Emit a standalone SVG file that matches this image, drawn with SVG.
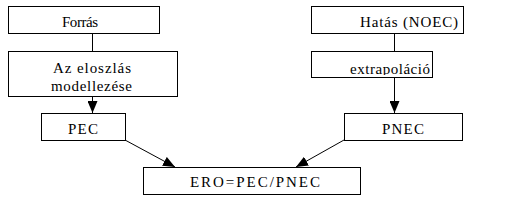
<svg xmlns="http://www.w3.org/2000/svg" width="520" height="201" viewBox="0 0 520 201">
  <style>
    .box { fill: #ffffff; stroke: #000000; stroke-width: 1; }
    .lbl { font-family: "Liberation Serif", "Times New Roman", "DejaVu Serif", serif; font-size: 15px; fill: #000000; }
    .conn { stroke: #000000; stroke-width: 1; fill: none; }
  </style>
  <defs>
    <marker id="arr" viewBox="0 0 12 10" markerWidth="12" markerHeight="10" refX="12" refY="5" orient="auto" markerUnits="userSpaceOnUse">
      <path d="M0,0 L12,5 L0,10 Z" fill="#000000"/>
    </marker>
    <clipPath id="clipAz"><rect x="9" y="52" width="168" height="41"/></clipPath>
    <clipPath id="clipEx"><rect x="312" y="52" width="120" height="23"/></clipPath>
  </defs>
  <rect width="520" height="201" fill="#ffffff"/>
  <g id="connectors">
    <line class="conn" x1="92.5" y1="33" x2="92.5" y2="51"/>
    <line class="conn" x1="394.5" y1="33" x2="394.5" y2="51"/>
    <line class="conn" x1="92.5" y1="97" x2="92.5" y2="113" marker-end="url(#arr)"/>
    <line class="conn" x1="394.5" y1="77" x2="394.5" y2="113" marker-end="url(#arr)"/>
    <line class="conn" x1="125" y1="140" x2="175" y2="167" marker-end="url(#arr)"/>
    <line class="conn" x1="344" y1="140" x2="296" y2="167" marker-end="url(#arr)"/>
  </g>
  <g id="forras">
    <rect class="box" x="8.5" y="6.5" width="151" height="27"/>
    <text class="lbl" x="62" y="27" textLength="36" lengthAdjust="spacing">Forrás</text>
  </g>
  <g id="eloszlas">
    <rect class="box" x="8.5" y="51.5" width="169" height="45"/>
    <g clip-path="url(#clipAz)">
      <text class="lbl" x="53" y="73" textLength="78" lengthAdjust="spacing">Az eloszlás</text>
      <text class="lbl" x="51" y="91" textLength="81" lengthAdjust="spacing">modellezése</text>
    </g>
  </g>
  <g id="pec">
    <rect class="box" x="41.5" y="113.5" width="84" height="27"/>
    <text class="lbl" x="68" y="134" textLength="30" lengthAdjust="spacing">PEC</text>
  </g>
  <g id="hatas">
    <rect class="box" x="311.5" y="6.5" width="152" height="27"/>
    <text class="lbl" x="360" y="27" textLength="98" lengthAdjust="spacing">Hatás (NOEC)</text>
  </g>
  <g id="extrapolacio">
    <rect class="box" x="311.5" y="51.5" width="121" height="26"/>
    <g clip-path="url(#clipEx)">
      <text class="lbl" x="350" y="74" textLength="80" lengthAdjust="spacing">extrapoláció</text>
    </g>
  </g>
  <g id="pnec">
    <rect class="box" x="344.5" y="113.5" width="118" height="27"/>
    <text class="lbl" x="382" y="134" textLength="42" lengthAdjust="spacing">PNEC</text>
  </g>
  <g id="ero">
    <rect class="box" x="143.5" y="167.5" width="217" height="27"/>
    <text class="lbl" x="190" y="187" textLength="130" lengthAdjust="spacing">ERO=PEC/PNEC</text>
  </g>
</svg>
